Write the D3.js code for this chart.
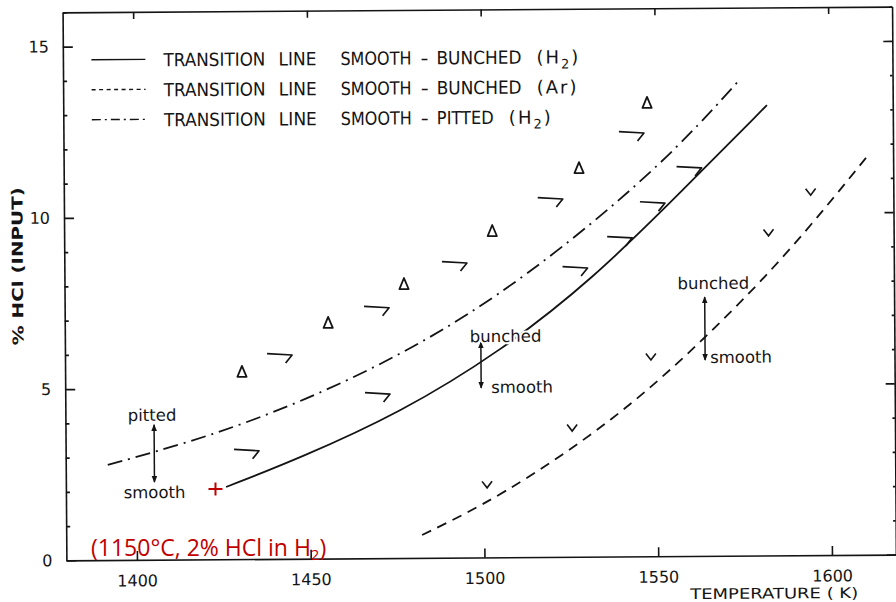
<!DOCTYPE html>
<html>
<head>
<meta charset="utf-8">
<script src="https://cdn.jsdelivr.net/npm/d3@7"></script>
<style>
  body { margin: 0; background: #fff; }
  svg { display: block; }
</style>
</head>
<body>
<svg id="chart" width="896" height="602"></svg>
<script>
// ---- data: temperature (K) vs. % HCl in the input gas ----
const lineBunchedH2 = [[1425.8, 2.11], [1447.1, 2.94], [1476.0, 4.24], [1504.9, 6.0], [1531.8, 8.11], [1557.0, 10.6], [1582.2, 13.15]];
const lineBunchedAr = [[1482.1, 0.67], [1504.6, 1.76], [1537.9, 3.99], [1563.5, 6.3], [1587.7, 8.77], [1611.0, 11.64]];
const linePittedH2  = [[1391.8, 2.78], [1420.0, 3.55], [1448.4, 4.6], [1480.0, 6.1], [1511.7, 8.09], [1551.5, 11.36], [1574.6, 13.92]];

// observed surface morphologies
const pittedObs  = [[1430.6, 5.47], [1455.5, 6.88], [1477.4, 8.0], [1502.9, 9.53], [1528.0, 11.35], [1547.7, 13.24]];
const bunchedObs = [[1431.9, 3.19], [1441.6, 5.98], [1469.6, 7.34], [1492.1, 8.63], [1519.8, 10.48], [1543.3, 12.39],
                    [1559.8, 11.36], [1549.2, 10.34], [1539.7, 9.33], [1526.8, 8.46], [1469.7, 4.82]];
const smoothObs  = [[1500.9, 2.12], [1525.5, 3.76], [1548.3, 5.82], [1582.4, 9.42], [1594.6, 10.6]];

// transition markers: x (K), upper tip (%), lower tip (%), words
const transitionArrows = [[1405.2, 3.94, 2.27, "pitted", "smooth"],
                          [1499.4, 6.29, 4.95, "bunched", "smooth"],
                          [1563.9, 7.56, 5.72, "bunched", "smooth"]];

// highlighted condition: 1150 °C, 2 % HCl in H2
const highlightC = 1150, highlightHCl = 2;

const xTicks = [1400, 1450, 1500, 1550, 1600];
const yTicks = [0, 5, 10, 15];
const yMinorTicks = d3.range(0, 17).filter(v => v % 5 !== 0);

const legendLabels = [
  ["TRANSITION", "LINE", "SMOOTH", "-", "BUNCHED", "(H2)"],
  ["TRANSITION", "LINE", "SMOOTH", "-", "BUNCHED", "(Ar)"],
  ["TRANSITION", "LINE", "SMOOTH", "-", "PITTED", "(H2)"]
];
const xTitle = "TEMPERATURE ( K)";
const yTitle = "% HCl (INPUT)";

// ---- layout ----
const svg = d3.select("#chart");
const ink = "#141414";
const font = "DejaVu Sans, sans-serif";

const x = d3.scaleLinear().domain([1379.7, 1618.4]).range([64.5, 894]);
const y = d3.scaleLinear().domain([0, 16]).range([557.5, 9.5]);
const [x0, x1] = x.range();
const [y0, y1] = y.range();

// the printed figure sits very slightly turned on the page
const plot = svg.append("g").attr("transform", "rotate(-0.4, 480, 286)");

svg.append("defs").append("marker")
  .attr("id", "tip").attr("viewBox", "0 -4 8 8")
  .attr("refX", 7).attr("refY", 0)
  .attr("markerWidth", 7).attr("markerHeight", 7)
  .attr("markerUnits", "userSpaceOnUse")
  .attr("orient", "auto-start-reverse")
  .append("path").attr("d", "M0,-3.2L8,0L0,3.2Z").attr("fill", ink);

// ---- axes / frame ----
function styleAxis(g) {
  g.selectAll(".domain").attr("stroke", ink).attr("stroke-width", 1.6);
  g.selectAll(".tick line").attr("stroke", ink).attr("stroke-width", 1.6);
  g.selectAll(".tick text").attr("fill", ink).attr("font-family", font).attr("font-size", 16);
}

plot.append("g").attr("transform", `translate(0,${y0})`)
  .call(d3.axisBottom(x).tickValues(xTicks).tickSizeInner(-9).tickSizeOuter(0).tickPadding(15).tickFormat(d3.format("d")))
  .call(styleAxis);
plot.append("g").attr("transform", `translate(0,${y1})`)
  .call(d3.axisTop(x).tickValues(xTicks).tickSizeInner(-7).tickSizeOuter(0).tickFormat(""))
  .call(styleAxis);
plot.append("g").attr("transform", `translate(${x0},0)`)
  .call(d3.axisLeft(y).tickValues(yTicks).tickSizeInner(-10).tickSizeOuter(0).tickPadding(14).tickFormat(d3.format("d")))
  .call(styleAxis);
plot.append("g").attr("transform", `translate(${x0},0)`)
  .call(d3.axisLeft(y).tickValues(yMinorTicks).tickSizeInner(-4).tickSizeOuter(0).tickFormat(""))
  .call(styleAxis).call(g => g.select(".domain").remove());
plot.append("g").attr("transform", `translate(${x1},0)`)
  .call(d3.axisRight(y).tickValues(yTicks).tickSizeInner(-9).tickSizeOuter(0).tickFormat(""))
  .call(styleAxis);
plot.append("g").attr("transform", `translate(${x1},0)`)
  .call(d3.axisRight(y).tickValues(yMinorTicks).tickSizeInner(-2.5).tickSizeOuter(0).tickFormat(""))
  .call(styleAxis).call(g => g.select(".domain").remove());

// axis titles
plot.append("text")
  .attr("x", 688).attr("y", 600.5)
  .attr("font-family", font).attr("font-size", 14.5).attr("fill", ink)
  .attr("textLength", 168).attr("lengthAdjust", "spacingAndGlyphs")
  .text(xTitle);
plot.append("text")
  .attr("transform", "translate(23,263) rotate(-90)")
  .attr("text-anchor", "middle")
  .attr("font-family", font).attr("font-size", 15).attr("font-weight", "bold").attr("fill", ink)
  .attr("textLength", 158).attr("lengthAdjust", "spacingAndGlyphs")
  .text(yTitle);

// ---- transition lines ----
const curve = d3.line().x(d => x(d[0])).y(d => y(d[1])).curve(d3.curveBasis);
const lineStyles = [
  { data: lineBunchedH2, dash: null,          legendDash: null },
  { data: lineBunchedAr, dash: "10,7",        legendDash: "4,3.5" },
  { data: linePittedH2,  dash: "15,6,2,6",    legendDash: "9,4,2,4" }
];
plot.append("g").selectAll("path").data(lineStyles).join("path")
  .attr("d", d => curve(d.data))
  .attr("fill", "none").attr("stroke", ink).attr("stroke-width", 1.8)
  .attr("stroke-dasharray", d => d.dash);

// ---- observation symbols ----
plot.append("g").selectAll("path").data(pittedObs).join("path")
  .attr("transform", d => `translate(${x(d[0])},${y(d[1])})`)
  .attr("d", "M0,-6L4.6,5L-4.6,5Z")
  .attr("fill", "none").attr("stroke", ink).attr("stroke-width", 1.8).attr("stroke-linejoin", "round");

plot.append("g").selectAll("path").data(bunchedObs).join("path")
  .attr("transform", d => `translate(${x(d[0])},${y(d[1])})`)
  .attr("d", "M-13,-0.5L12,1L5.5,9")
  .attr("fill", "none").attr("stroke", ink).attr("stroke-width", 1.7).attr("stroke-linejoin", "round");

plot.append("g").selectAll("path").data(smoothObs).join("path")
  .attr("transform", d => `translate(${x(d[0])},${y(d[1])})`)
  .attr("d", "M-5,-3.5L0,3L5,-3.5")
  .attr("fill", "none").attr("stroke", ink).attr("stroke-width", 1.6);

// ---- transition arrows with labels ----
const arrowLabelPos = [
  { top: [-2, -4, "middle"], bottom: [0, 16, "middle"] },
  { top: [-11, 0, "start"],  bottom: [10, 5, "start"] },
  { top: [-27, -8, "start"], bottom: [5, 3, "start"] }
];
const arrows = plot.append("g");
transitionArrows.forEach((a, i) => {
  const ax = x(a[0]), yt = y(a[1]), yb = y(a[2]);
  const lp = arrowLabelPos[i];
  arrows.append("line")
    .attr("x1", ax).attr("x2", ax).attr("y1", yt).attr("y2", yb)
    .attr("stroke", ink).attr("stroke-width", 1.5)
    .attr("marker-start", "url(#tip)").attr("marker-end", "url(#tip)");
  [[a[3], lp.top, yt], [a[4], lp.bottom, yb]].forEach(([word, p, yy]) => {
    arrows.append("text")
      .attr("x", ax + p[0]).attr("y", yy + p[1]).attr("text-anchor", p[2])
      .attr("font-family", font).attr("font-size", 16.5).attr("fill", ink)
      .attr("stroke", "#fff").attr("stroke-width", 4).attr("paint-order", "stroke")
      .text(word);
  });
});

// ---- legend ----
const legendRowY = [57, 87, 117];
const wordX = [[165, 102], [280, 38], [342, 71], [422, 8], [438, null], [null, null]];
const legend = plot.append("g");
legendLabels.forEach((words, r) => {
  const ly = legendRowY[r];
  legend.append("line")
    .attr("x1", 93).attr("x2", 147).attr("y1", ly).attr("y2", ly)
    .attr("stroke", ink).attr("stroke-width", 1.4)
    .attr("stroke-dasharray", lineStyles[r].legendDash);
  const base = ly + 7;
  words.forEach((w, k) => {
    const t = legend.append("text").attr("y", base)
      .attr("font-family", font).attr("font-size", 18).attr("fill", ink);
    if (k < 5) {
      const widths = { BUNCHED: 85, PITTED: 57 };
      const wd = k === 4 ? widths[w] : wordX[k][1];
      t.attr("x", wordX[k][0]).attr("textLength", wd).attr("lengthAdjust", "spacingAndGlyphs").text(w);
    } else {
      t.attr("x", words[4] === "PITTED" ? 510 : 538).attr("letter-spacing", 2);
      const m = w.match(/^\((\D+)(\d?)\)$/);
      t.append("tspan").text("(" + m[1]);
      if (m[2]) t.append("tspan").attr("dy", 5).attr("font-size", 13).text(m[2]);
      t.append("tspan").attr("dy", m[2] ? -5 : 0).text(")");
    }
  });
});

// ---- highlighted condition (overlay) ----
const red = "#c00000";
const hx = x(highlightC + 273.15), hy = y(highlightHCl);
svg.append("path")
  .attr("d", `M${hx - 7},${hy}H${hx + 7}M${hx},${hy - 6.5}V${hy + 6.5}`)
  .attr("stroke", red).attr("stroke-width", 2).attr("fill", "none");
const note = svg.append("text")
  .attr("x", 91).attr("y", 556)
  .attr("font-family", "Open Sans, sans-serif").attr("font-size", 23).attr("fill", red);
note.append("tspan").text(`(${highlightC}°C, ${highlightHCl}% HCl in H`);
note.append("tspan").attr("dy", 4).attr("font-size", 15).text("2");
note.append("tspan").attr("dy", -4).text(")");
</script>
</body>
</html>
